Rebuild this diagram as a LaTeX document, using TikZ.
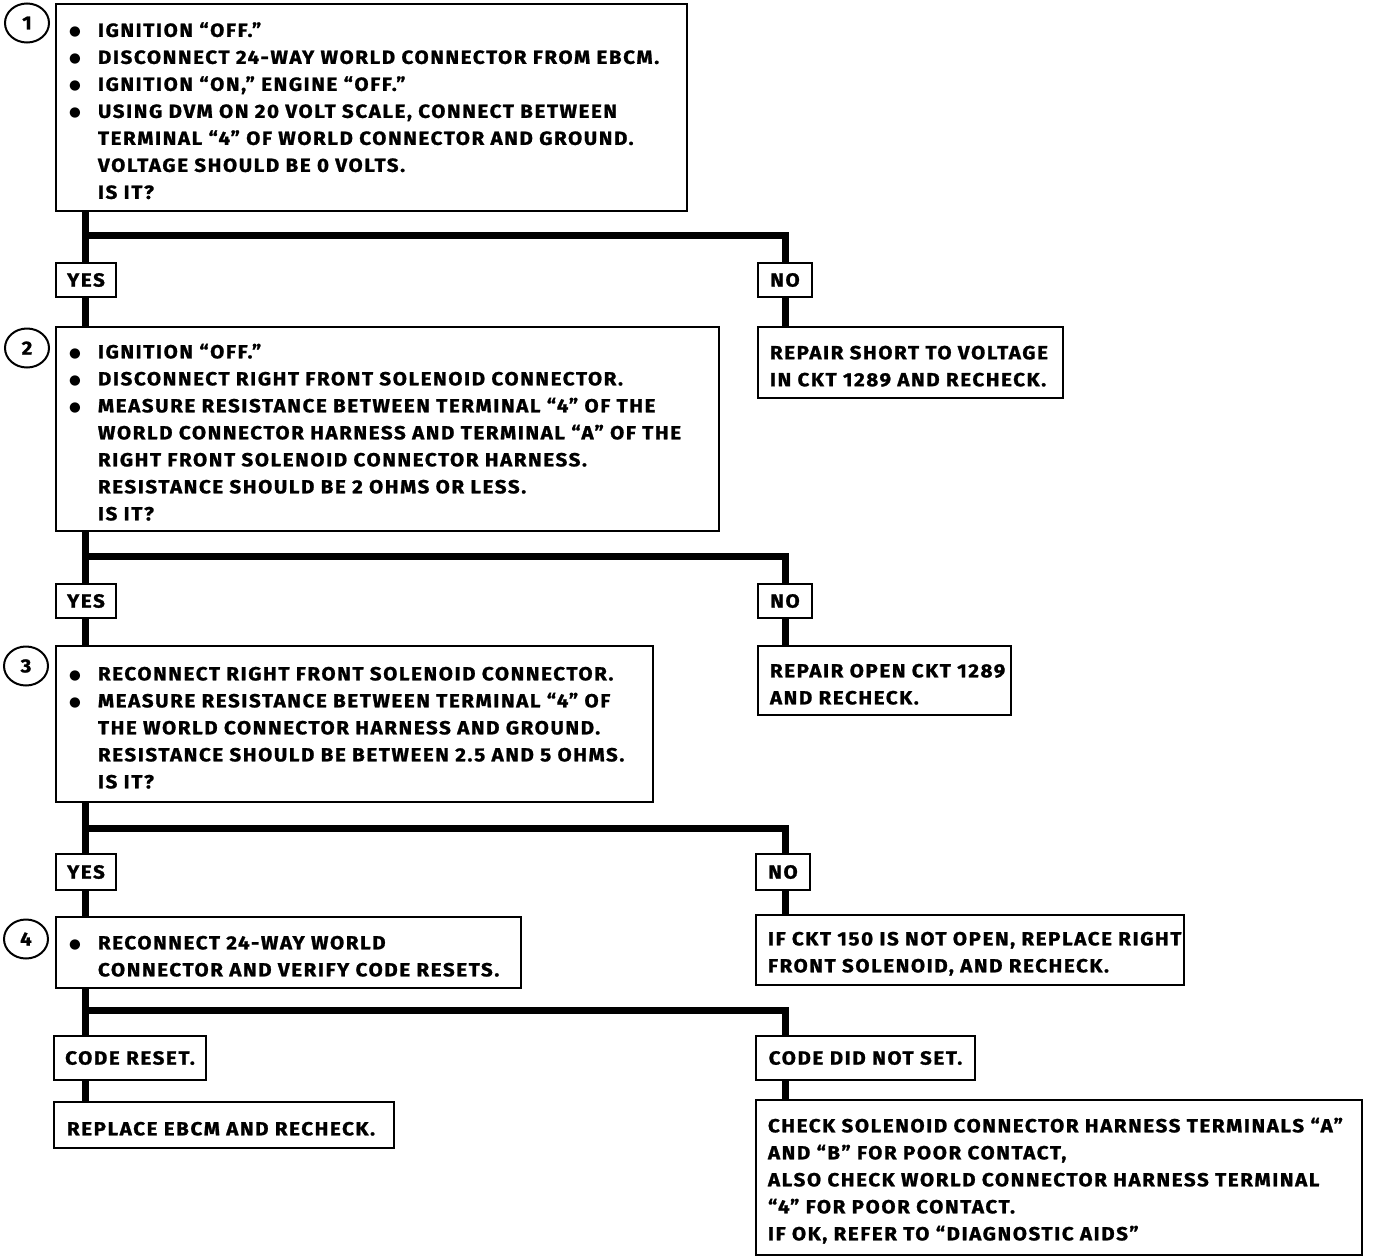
\documentclass[tikz,border=0pt]{standalone}
\usepackage{fontspec}
\setmainfont{Fira Sans}[LetterSpace=8.5, FakeStretch=1.08, BoldFeatures={FakeBold=1.2}]
\newfontfamily\dejavu{DejaVu Sans}
\usetikzlibrary{shapes.geometric}
\newcommand\bl[1]{\mbox{\makebox[31pt][l]{\hspace*{2pt}\raisebox{1.2pt}{\dejavu\fontsize{13.5}{27}\selectfont ●}}#1}}
\newcommand\il[1]{\mbox{\hspace*{31pt}#1}}
\newcommand\pl[1]{\mbox{#1}}
\begin{document}
\begin{tikzpicture}[x=1pt,y=-1pt,
  txt/.style={font=\bfseries\fontsize{19}{27}\selectfont},
  box/.style={txt, draw, line width=2pt, fill=white, rectangle, anchor=north west, inner ysep=0pt, align=left,
    execute at begin node={\rule{0pt}{21pt}}},
  lbl/.style={txt, draw, line width=2pt, fill=white, rectangle, anchor=north west, inner sep=0pt, align=center},
  num/.style={txt, draw, line width=2pt, ellipse, minimum width=44pt, minimum height=39pt, inner sep=0pt},
  conn/.style={line width=7pt, line join=miter}]
\useasboundingbox (0,0) rectangle (1376,1258);

% step 1
\node[num] (c1) at (27,23) {1};
\node[box, minimum width=631pt, minimum height=207pt, text width=609pt, inner xsep=11pt] (b1) at (55,3) {%
\bl{IGNITION “OFF.”}\\
\bl{DISCONNECT 24-WAY WORLD CONNECTOR FROM EBCM.}\\
\bl{IGNITION “ON,” ENGINE “OFF.”}\\
\bl{USING DVM ON 20 VOLT SCALE, CONNECT BETWEEN}\\
\il{TERMINAL “4” OF WORLD CONNECTOR AND GROUND.}\\
\il{VOLTAGE SHOULD BE 0 VOLTS.}\\
\il{IS IT?}};
\node[lbl, minimum width=60pt, minimum height=34pt] (yes1) at (55,262) {YES};
\node[lbl, minimum width=54pt, minimum height=34pt] (no1) at (757,262) {NO};
\node[box, minimum width=305pt, minimum height=71pt, text width=281pt, inner xsep=12pt] (r1) at (757,326) {%
\pl{REPAIR SHORT TO VOLTAGE}\\
\pl{IN CKT 1289 AND RECHECK.}};

% step 2
\node[num] (c2) at (27,348) {2};
\node[box, minimum width=663pt, minimum height=204pt, text width=641pt, inner xsep=11pt] (b2) at (55,326) {%
\bl{IGNITION “OFF.”}\\
\bl{DISCONNECT RIGHT FRONT SOLENOID CONNECTOR.}\\
\bl{MEASURE RESISTANCE BETWEEN TERMINAL “4” OF THE}\\
\il{WORLD CONNECTOR HARNESS AND TERMINAL “A” OF THE}\\
\il{RIGHT FRONT SOLENOID CONNECTOR HARNESS.}\\
\il{RESISTANCE SHOULD BE 2 OHMS OR LESS.}\\
\il{IS IT?}};
\node[lbl, minimum width=60pt, minimum height=34pt] (yes2) at (55,583) {YES};
\node[lbl, minimum width=54pt, minimum height=34pt] (no2) at (757,583) {NO};
\node[box, minimum width=253pt, minimum height=69pt, text width=229pt, inner xsep=12pt] (r2) at (757,645) {%
\pl{REPAIR OPEN CKT 1289}\\
\pl{AND RECHECK.}};

% step 3
\node[num] (c3) at (26,666) {3};
\node[box, minimum width=597pt, minimum height=156pt, text width=575pt, inner xsep=11pt] (b3) at (55,645) {%
\bl{RECONNECT RIGHT FRONT SOLENOID CONNECTOR.}\\
\bl{MEASURE RESISTANCE BETWEEN TERMINAL “4” OF}\\
\il{THE WORLD CONNECTOR HARNESS AND GROUND.}\\
\il{RESISTANCE SHOULD BE BETWEEN 2.5 AND 5 OHMS.}\\
\il{IS IT?}};
\node[lbl, minimum width=60pt, minimum height=36pt] (yes3) at (55,853) {YES};
\node[lbl, minimum width=54pt, minimum height=36pt] (no3) at (755,853) {NO};
\node[box, minimum width=428pt, minimum height=70pt, text width=404pt, inner xsep=12pt] (r3) at (755,914) {%
\pl{IF CKT 150 IS NOT OPEN, REPLACE RIGHT}\\
\pl{FRONT SOLENOID, AND RECHECK.}};

% step 4
\node[num] (c4) at (26,939) {4};
\node[box, minimum width=465pt, minimum height=71pt, text width=443pt, inner xsep=11pt] (b4) at (55,916) {%
\bl{RECONNECT 24-WAY WORLD}\\
\il{CONNECTOR AND VERIFY CODE RESETS.}};
\node[lbl, minimum width=152pt, minimum height=44pt] (cr) at (53,1035) {CODE RESET.};
\node[lbl, minimum width=219pt, minimum height=44pt] (cn) at (755,1035) {CODE DID NOT SET.};
\node[box, minimum width=340pt, minimum height=46pt, text width=314pt, inner xsep=13pt] (r4) at (53,1101) {%
\pl{REPLACE EBCM AND RECHECK.}};
\node[box, minimum width=606pt, minimum height=155pt, text width=582pt, inner xsep=12pt] (r5) at (755,1099) {%
\pl{CHECK SOLENOID CONNECTOR HARNESS TERMINALS “A”}\\
\pl{AND “B” FOR POOR CONTACT,}\\
\pl{ALSO CHECK WORLD CONNECTOR HARNESS TERMINAL}\\
\pl{“4” FOR POOR CONTACT.}\\
\pl{IF OK, REFER TO “DIAGNOSTIC AIDS”}};

% connectors
\coordinate (tx) at (85,0);
\coordinate (rx) at (785,0);
\coordinate (j1) at (85,235);
\coordinate (j2) at (85,556);
\coordinate (j3) at (85,828);
\coordinate (j4) at (85,1010);

\draw[conn] (b1.south -| tx) -- (yes1.north -| tx);
\draw[conn] (yes1.south -| tx) -- (b2.north -| tx);
\draw[conn] (j1) -| (no1.north -| rx);
\draw[conn] (no1.south -| rx) -- (r1.north -| rx);

\draw[conn] (b2.south -| tx) -- (yes2.north -| tx);
\draw[conn] (yes2.south -| tx) -- (b3.north -| tx);
\draw[conn] (j2) -| (no2.north -| rx);
\draw[conn] (no2.south -| rx) -- (r2.north -| rx);

\draw[conn] (b3.south -| tx) -- (yes3.north -| tx);
\draw[conn] (yes3.south -| tx) -- (b4.north -| tx);
\draw[conn] (j3) -| (no3.north -| rx);
\draw[conn] (no3.south -| rx) -- (r3.north -| rx);

\draw[conn] (b4.south -| tx) -- (cr.north -| tx);
\draw[conn] (cr.south -| tx) -- (r4.north -| tx);
\draw[conn] (j4) -| (cn.north -| rx);
\draw[conn] (cn.south -| rx) -- (r5.north -| rx);
\end{tikzpicture}
\end{document}
